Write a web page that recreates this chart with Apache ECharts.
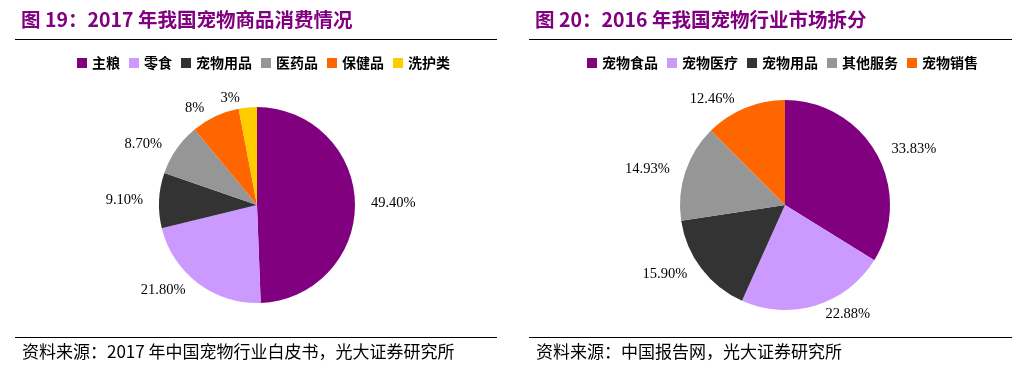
<!DOCTYPE html>
<html><head><meta charset="utf-8">
<script src="https://cdn.jsdelivr.net/npm/echarts@6/dist/echarts.min.js"></script>
<style>html,body{margin:0;padding:0;background:#fff}#c{width:1023px;height:370px}</style>
</head><body><div id="c"></div>
<script>
const leftTitle = '图 19：2017 年我国宠物商品消费情况';
const leftSource = '资料来源：2017 年中国宠物行业白皮书，光大证券研究所';
const leftCats = ['主粮', '零食', '宠物用品', '医药品', '保健品', '洗护类'];
const leftValues = [49.4, 21.8, 9.1, 8.7, 8, 3];
const leftLabels = ['49.40%', '21.80%', '9.10%', '8.70%', '8%', '3%'];
const leftColors = ['#800080', '#CC99FF', '#333333', '#969696', '#FF6600', '#FFCC00'];

const rightTitle = '图 20：2016 年我国宠物行业市场拆分';
const rightSource = '资料来源：中国报告网，光大证券研究所';
const rightCats = ['宠物食品', '宠物医疗', '宠物用品', '其他服务', '宠物销售'];
const rightValues = [33.83, 22.88, 15.90, 14.93, 12.46];
const rightLabels = ['33.83%', '22.88%', '15.90%', '14.93%', '12.46%'];
const rightColors = ['#800080', '#CC99FF', '#333333', '#969696', '#FF6600'];

const chart = echarts.init(document.getElementById('c'));
const cjk = '"Noto Sans CJK SC", sans-serif';
const serif = '"Liberation Serif", "Times New Roman", serif';

function pieSeries(cats, vals, labels, colors, center, r) {
  return {
    type: 'pie', center: center, radius: r, startAngle: 90, clockwise: true,
    avoidLabelOverlap: false,
    data: cats.map((c, i) => ({name: c, value: vals[i], itemStyle: {color: colors[i]}})),
    label: {show: true, position: 'outside', formatter: p => labels[p.dataIndex],
      fontFamily: serif, fontSize: 14.5, color: '#000'},
    labelLine: {show: false, length: 9, length2: 2},
    emphasis: {disabled: true}
  };
}

function legend(cats, left) {
  return {
    data: cats, left: left, top: 51, itemWidth: 10, itemHeight: 10, itemGap: 9,
    icon: 'rect',
    textStyle: {fontFamily: cjk, fontSize: 14, fontWeight: 'bold', color: '#000'},
    selectedMode: false
  };
}

chart.setOption({
  animation: false,
  title: [
    {text: leftTitle, left: 16, top: 5, textStyle: {fontFamily: cjk, fontSize: 19.5, fontWeight: 'bold', color: '#800080'}},
    {text: rightTitle, left: 530, top: 5, textStyle: {fontFamily: cjk, fontSize: 19.5, fontWeight: 'bold', color: '#800080'}},
    {text: leftSource, left: 17, top: 338, textStyle: {fontFamily: cjk, fontSize: 17, fontWeight: 'normal', color: '#000'}},
    {text: rightSource, left: 531, top: 338, textStyle: {fontFamily: cjk, fontSize: 17, fontWeight: 'normal', color: '#000'}}
  ],
  legend: [legend(leftCats, 72), legend(rightCats, 582)],
  series: [
    pieSeries(leftCats, leftValues, leftLabels, leftColors, [257, 205], 98),
    pieSeries(rightCats, rightValues, rightLabels, rightColors, [785, 205], 105)
  ],
  graphic: [
    {type: 'line', shape: {x1: 15, y1: 39.5, x2: 497, y2: 39.5}, style: {stroke: '#000', lineWidth: 1}},
    {type: 'line', shape: {x1: 529, y1: 39.5, x2: 1012, y2: 39.5}, style: {stroke: '#000', lineWidth: 1}},
    {type: 'line', shape: {x1: 15, y1: 337.5, x2: 497, y2: 337.5}, style: {stroke: '#000', lineWidth: 1}},
    {type: 'line', shape: {x1: 529, y1: 337.5, x2: 1012, y2: 337.5}, style: {stroke: '#000', lineWidth: 1}}
  ]
});
</script></body></html>
